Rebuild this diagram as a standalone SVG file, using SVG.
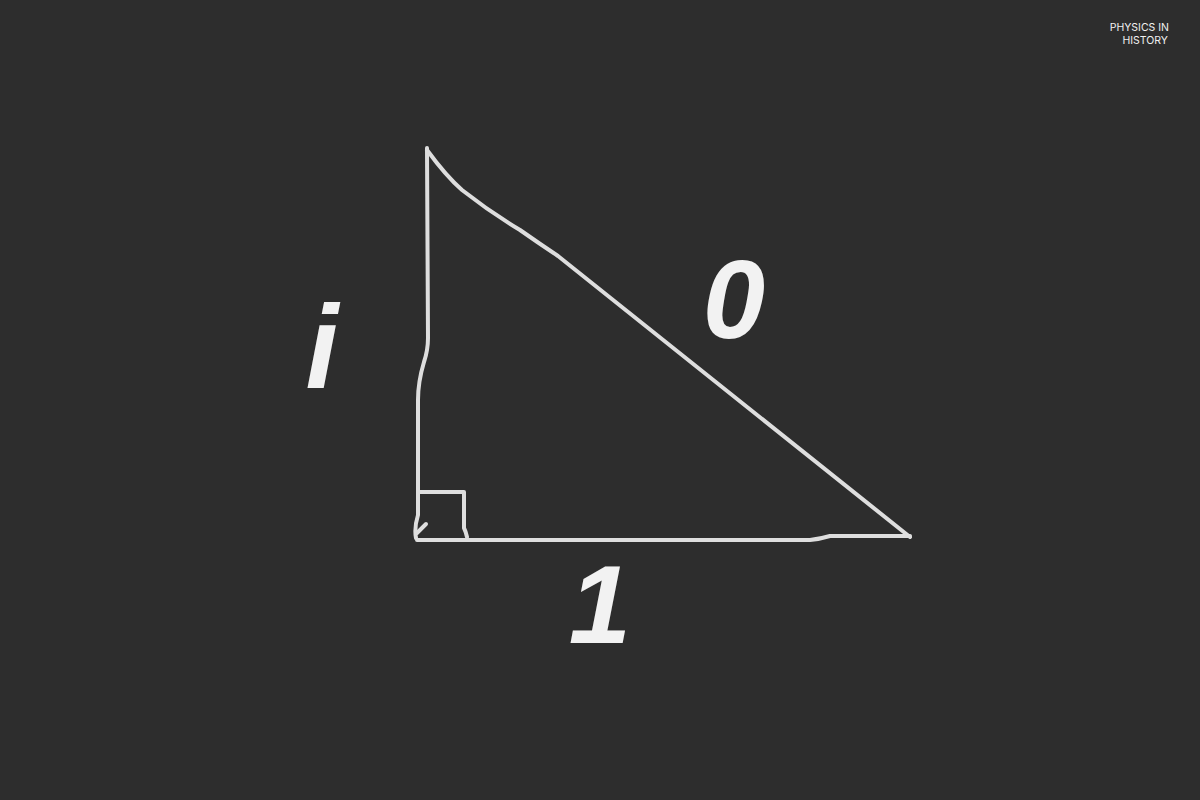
<svg xmlns="http://www.w3.org/2000/svg" width="1200" height="800" viewBox="0 0 1200 800">
<style>
.edge{fill:none;stroke:#dedede;stroke-width:4;stroke-linecap:round;stroke-linejoin:round}
.lbl{fill:#f2f2f2;font-family:"Liberation Sans",Arial,sans-serif;font-style:italic;font-weight:bold}
.brand{fill:#f0f0f0;font-family:"Inter","Liberation Sans",sans-serif;font-size:10.5px}
</style>
<rect width="1200" height="800" fill="#2d2d2d"/>
<g id="connectors">
<path class="edge" d="M427,148 L428,338 Q428,350 424,362 Q418,382 418,400 L418,515 Q414,528 416,538"/>
<path class="edge" d="M417,540 L810,540 Q820,539 830,536 L910,536"/>
<path class="edge" d="M427,150 Q446,176 462,190 Q490,212 520,230 Q540,244 558,256 L910,537"/>
<path class="edge" d="M419,492 L464,492 L464,528 Q466,532 467,537"/>
<path class="edge" d="M417,533 L426,524"/>
</g>
<g id="label-i"><text class="lbl" x="322" y="388" font-size="118" text-anchor="middle">i</text></g>
<g id="label-0"><text class="lbl" x="734" y="338" font-size="112" text-anchor="middle">0</text></g>
<g id="label-1"><text class="lbl" x="600" y="643" font-size="112" text-anchor="middle">1</text></g>
<g id="brand">
<text class="brand" x="1169" y="31" text-anchor="end">PHYSICS IN</text>
<text class="brand" x="1168" y="44" text-anchor="end">HISTORY</text>
</g>
</svg>
